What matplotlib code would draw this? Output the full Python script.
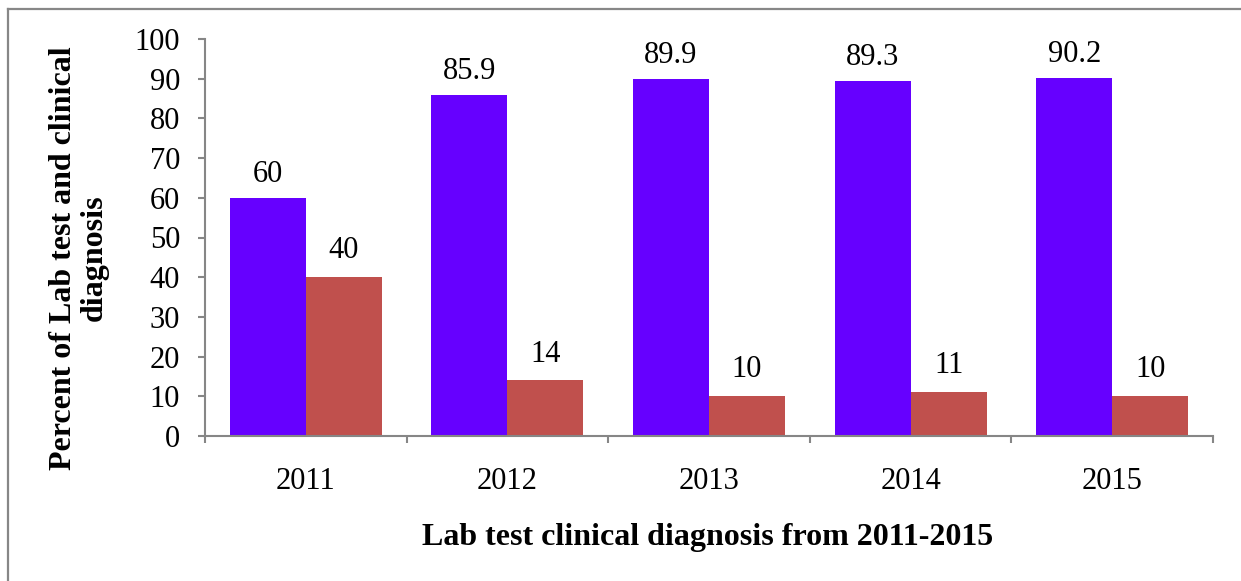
import matplotlib
matplotlib.use("Agg")
import matplotlib.pyplot as plt
from matplotlib.lines import Line2D
import numpy as np

years = ["2011", "2012", "2013", "2014", "2015"]
lab_test = [60, 85.9, 89.9, 89.3, 90.2]
clinical = [40, 14, 10, 11, 10]
lab_labels = ["60", "85.9", "89.9", "89.3", "90.2"]
clin_labels = ["40", "14", "10", "11", "10"]

plt.rcParams["font.family"] = ["Liberation Serif", "DejaVu Serif"]

W, H = 1241, 581
fig = plt.figure(figsize=(W / 100, H / 100), dpi=100)
ax = fig.add_axes([205 / W, 1 - 436 / H, (1213 - 205) / W, (436 - 39) / H])

x = np.arange(len(years))
bw = 0.377
b1 = ax.bar(x - bw, lab_test, width=bw, align="edge", color="#6600FF", linewidth=0)
b2 = ax.bar(x, clinical, width=bw, align="edge", color="#C0504D", linewidth=0)

for rect, txt in zip(b1, lab_labels):
    ax.annotate(txt, (rect.get_x() + rect.get_width() / 2, rect.get_height()),
                xytext=(0, 17), textcoords="offset points", ha="center", va="center",
                fontsize=22)
for rect, txt in zip(b2, clin_labels):
    ax.annotate(txt, (rect.get_x() + rect.get_width() / 2, rect.get_height()),
                xytext=(0, 19), textcoords="offset points", ha="center", va="center",
                fontsize=22)

ax.set_xlim(-0.5, len(years) - 0.5)
ax.set_ylim(0, 100)
ax.set_yticks(np.arange(0, 101, 10))
ax.tick_params(axis="y", labelsize=22, length=5, width=1.5, color="#868686", pad=13)

# category boundaries carry the tick marks, centres carry the year labels
ax.set_xticks(np.arange(-0.5, len(years), 1.0))
ax.set_xticklabels([])
ax.set_xticks(x, minor=True)
ax.set_xticklabels(years, minor=True)
ax.tick_params(axis="x", which="major", length=5, width=1.5, color="#868686")
ax.tick_params(axis="x", which="minor", length=0, labelsize=22, pad=22)

for side in ("top", "right"):
    ax.spines[side].set_visible(False)
for side in ("left", "bottom"):
    ax.spines[side].set_color("#868686")
    ax.spines[side].set_linewidth(1.5)

fig.text(79 / W, 1 - 258 / H, "Percent of Lab test and clinical\ndiagnosis",
         rotation=90, ha="center", va="center", multialignment="center",
         fontsize=23, fontweight="bold", linespacing=1.05)
fig.text(708 / W, 1 - 537 / H, "Lab test clinical diagnosis from 2011-2015",
         ha="center", va="center", fontsize=23, fontweight="bold")

# chart frame (left and top edges)
fig.add_artist(Line2D([8 / W, 8 / W], [0, 1 - 9 / H], transform=fig.transFigure,
                      color="#878787", linewidth=1.6))
fig.add_artist(Line2D([8 / W, 1], [1 - 9 / H, 1 - 9 / H], transform=fig.transFigure,
                      color="#878787", linewidth=1.6))

fig.savefig("out.png", dpi=100)
